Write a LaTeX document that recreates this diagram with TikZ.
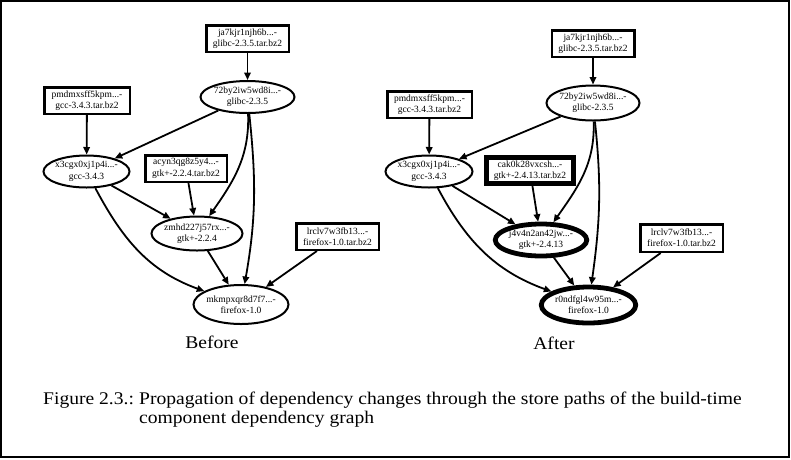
\documentclass[tikz,border=0pt]{standalone}
\usepackage{fontspec}
\setmainfont{Liberation Serif}
\newfontfamily\capfont[FakeStretch=1.1]{Liberation Serif}
\usetikzlibrary{arrows.meta,shapes.geometric}
\tikzset{
  box/.style={draw, rectangle, line width=2.5pt, inner sep=0pt, align=center,
    font=\fontsize{9.5}{11.3}\selectfont},
  thickbox/.style={box, line width=4.5pt},
  ell/.style={draw, ellipse, line width=2pt, inner sep=-12pt, align=center,
    font=\fontsize{9.5}{11.3}\selectfont},
  thickell/.style={ell, line width=4.8pt},
  arr/.style={-{Triangle[length=7.5pt,width=6.5pt]}, line width=1.8pt},
  lbl/.style={font=\capfont\fontsize{17.8}{21}\selectfont, inner sep=0pt},
  captext/.style={font=\capfont\fontsize{17.8}{21}\selectfont, inner sep=0pt, anchor=base west}
}
\begin{document}
\begin{tikzpicture}[x=1pt,y=-1pt]
\useasboundingbox (0,0) rectangle (791,459);
\draw[line width=1.5pt] (1,1) rectangle (789,457);

% ---------- Before ----------
\node[box, minimum width=82.5pt, minimum height=26.5pt] (Lja) at (247.5,38.5) {ja7kjr1njh6b...-\\glibc-2.3.5.tar.bz2};
\node[ell, minimum width=94pt, minimum height=32pt] (L72) at (247.5,97) {72by2iw5wd8i...-\\glibc-2.3.5};
\node[box, minimum width=85.5pt, minimum height=26.5pt] (Lpm) at (87,100.5) {pmdmxsff5kpm...-\\gcc-3.4.3.tar.bz2};
\node[ell, minimum width=86pt, minimum height=32pt] (Lx3) at (86.5,171.5) {x3cgx0xj1p4i...-\\gcc-3.4.3};
\node[box, minimum width=81.5pt, minimum height=26.5pt] (Lac) at (186,168.5) {acyn3qg8z5y4...-\\gtk+-2.2.4.tar.bz2};
\node[ell, minimum width=91pt, minimum height=34pt] (Lzm) at (197,233.5) {zmhd227j57rx...-\\gtk+-2.2.4};
\node[box, minimum width=82.5pt, minimum height=26.5pt] (Llr) at (337.5,236.5) {lrclv7w3fb13...-\\firefox-1.0.tar.bz2};
\node[ell, minimum width=95pt, minimum height=39pt] (Lmk) at (241,304.5) {mkmpxqr8d7f7...-\\firefox-1.0};
\node[lbl, anchor=base] (Lbefore) at (212,348) {Before};

\draw[arr] (Lja) -- (L72);
\draw[arr] (Lpm) -- (Lx3);
\draw[arr] (L72) -- (Lx3);
\draw[arr] (L72) to[out=-88,in=55] (Lzm);
\draw[arr] (L72) to[out=-84,in=80] (Lmk);
\draw[arr] (Lx3) -- (Lzm);
\draw[arr] (Lx3) to[out=-62,in=160] (Lmk);
\draw[arr] (Lac) -- (Lzm);
\draw[arr] (Lzm) -- (Lmk);
\draw[arr] (Llr) -- (Lmk);

% ---------- After ----------
\node[box, minimum width=82.5pt, minimum height=26.5pt] (Rja) at (593,43.5) {ja7kjr1njh6b...-\\glibc-2.3.5.tar.bz2};
\node[ell, minimum width=93pt, minimum height=35pt] (R72) at (593,103) {72by2iw5wd8i...-\\glibc-2.3.5};
\node[box, minimum width=84.5pt, minimum height=26.5pt] (Rpm) at (429.5,104.5) {pmdmxsff5kpm...-\\gcc-3.4.3.tar.bz2};
\node[ell, minimum width=87pt, minimum height=32pt] (Rx3) at (429,171.5) {x3cgx0xj1p4i...-\\gcc-3.4.3};
\node[thickbox, minimum width=87pt, minimum height=26pt] (Rca) at (530,170.5) {cak0k28vxcsh...-\\gtk+-2.4.13.tar.bz2};
\node[thickell, minimum width=91.5pt, minimum height=32pt] (Rj4) at (541,240) {j4v4n2an42jw...-\\gtk+-2.4.13};
\node[box, minimum width=82.5pt, minimum height=27.5pt] (Rlr) at (681.5,238) {lrclv7w3fb13...-\\firefox-1.0.tar.bz2};
\node[thickell, minimum width=94.5pt, minimum height=36pt] (Rr0) at (588.5,305) {r0ndfgl4w95m...-\\firefox-1.0};
\node[lbl, anchor=base] (Rafter) at (554,349) {After};

\draw[arr] (Rja) -- (R72);
\draw[arr] (Rpm) -- (Rx3);
\draw[arr] (R72) -- (Rx3);
\draw[arr] (R72) to[out=-88,in=55] (Rj4);
\draw[arr] (R72) to[out=-84,in=82] (Rr0);
\draw[arr] (Rx3) -- (Rj4);
\draw[arr] (Rx3) to[out=-62,in=160] (Rr0);
\draw[arr] (Rca) -- (Rj4);
\draw[arr] (Rj4) -- (Rr0);
\draw[arr] (Rlr) -- (Rr0);

% ---------- Caption ----------
\node[captext] (figlab) at (43,404) {Figure 2.3.:};
\node[captext] (cap1) at (139,404) {Propagation of dependency changes through the store paths of the build-time};
\node[captext] (cap2) at (139,423) {component dependency graph};
\end{tikzpicture}
\end{document}
